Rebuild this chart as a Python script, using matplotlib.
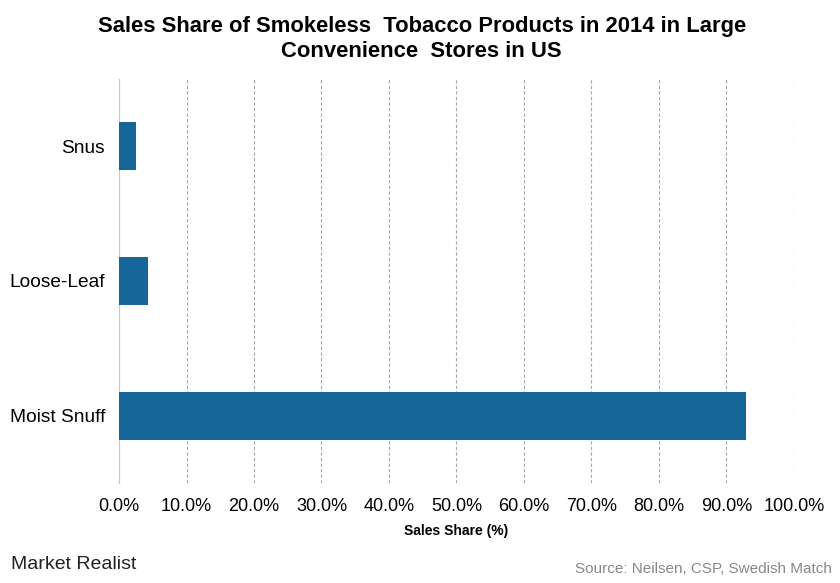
import matplotlib
matplotlib.use("Agg")
import matplotlib.pyplot as plt
from matplotlib.ticker import FuncFormatter

plt.rcParams['font.family'] = ['Liberation Sans', 'DejaVu Sans']

# data
categories = ['Moist Snuff', 'Loose-Leaf', 'Snus']
shares = [92.9, 4.3, 2.5]
ticks = [0, 10, 20, 30, 40, 50, 60, 70, 80, 90, 100]

fig = plt.figure(figsize=(8.4, 5.83), dpi=100)
ax = fig.add_axes([0.1417, 0.1715, 0.8033, 0.6935])

ax.barh(range(len(categories)), shares, height=0.356, color='#176699', zorder=3)
ax.set_yticks(range(len(categories)))
ax.set_yticklabels(categories, fontsize=13.8)
ax.set_ylim(-0.5, 2.5)
ax.set_xlim(0, 100)
ax.set_xticks(ticks)
ax.xaxis.set_major_formatter(FuncFormatter(lambda v, p: f'{v:.1f}%'))
ax.tick_params(axis='x', labelsize=13, length=0, pad=11)
ax.tick_params(axis='y', length=0, pad=10)

ax.grid(axis='x', linestyle=(0, (3, 2)), color='#a8a8a8', linewidth=0.8, zorder=0)
for s in ['top', 'right', 'bottom']:
    ax.spines[s].set_visible(False)
ax.spines['left'].set_color('#c8c8c8')

ax.set_xlabel('Sales Share (%)', fontsize=10, fontweight='bold', labelpad=6)

fig.text(0.502, 0.972, 'Sales Share of Smokeless  Tobacco Products in 2014 in Large\nConvenience  Stores in US',
         ha='center', va='top', fontsize=15.8, fontweight='bold', linespacing=1.2)

fig.text(0.013, 0.018, 'Market Realist', fontsize=14, color='#222222', ha='left', va='bottom')
fig.text(0.99, 0.012, 'Source: Neilsen, CSP, Swedish Match', fontsize=11, color='#888888',
         ha='right', va='bottom')

fig.savefig('out.png', dpi=100)
